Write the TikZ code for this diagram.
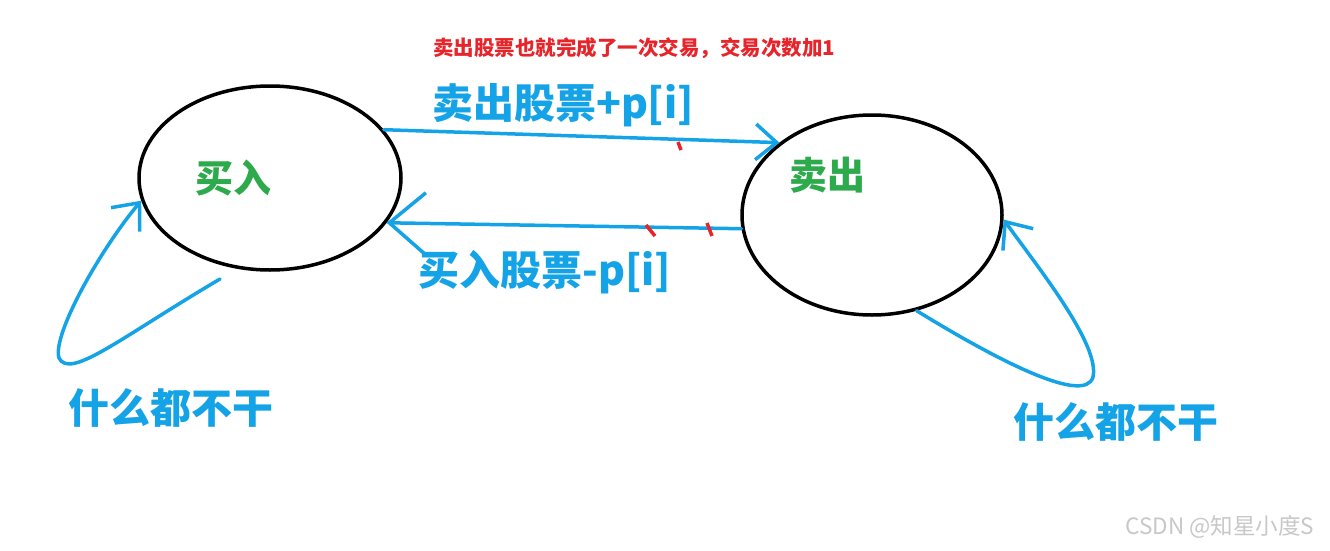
\documentclass[tikz,border=0pt]{standalone}
\usepackage{fontspec}
\newfontfamily\cjk{Noto Sans CJK SC}
\usetikzlibrary{arrows.meta,shapes.geometric}
\definecolor{skyb}{RGB}{20,163,230}
\definecolor{grn}{RGB}{45,170,75}
\definecolor{redt}{RGB}{232,36,43}
\definecolor{wm}{RGB}{200,200,200}
\begin{document}
\begin{tikzpicture}[x=1pt,y=-1pt,
  state/.style={draw=black,line width=3.5pt,ellipse,inner sep=0pt},
  conn/.style={draw=skyb,line width=3.5pt,line cap=round,line join=round},
  barb/.style={-{Straight Barb[length=#1,width=1.7*#1,line width=3.5pt]}},
  tick/.style={draw=redt,line width=3.5pt},
  big/.style={text=skyb,font=\cjk\bfseries\fontsize{41}{46}\selectfont,inner sep=0pt},
  stname/.style={text=grn,font=\cjk\bfseries\fontsize{38}{42}\selectfont,inner sep=0pt}]
\useasboundingbox (0,0) rectangle (1330,551);
\fill[white] (0,0) rectangle (1330,551);
% states
\node[state,minimum width=262pt,minimum height=184pt] (buy) at (270,178) {};
\node[state,minimum width=260pt,minimum height=200pt] (sell) at (872,215) {};
\node[stname] (buyt) at (233,178) {买入};
\node[stname] (sellt) at (827,175) {卖出};
% labels
\node[text=redt,font=\cjk\bfseries\fontsize{20.5}{24}\selectfont,inner sep=0pt] (note) at (634,48) {卖出股票也就完成了一次交易，交易次数加1};
\node[big] (sl) at (563,105) {卖出股票+p[i]};
\node[big] (bl) at (545,272) {买入股票-p[i]};
\node[big] (idle1) at (171,408) {什么都不干};
\node[big] (idle2) at (1116,422) {什么都不干};
\node[text=wm,font=\cjk\fontsize{22.5}{26}\selectfont,inner sep=0pt] (wmk) at (1220,527) {CSDN @知星小度S};
% transitions
\draw[conn,barb=21pt] (buy.23.9) -- (sell.142);
\draw[conn,barb=36pt] (sell.186.6) -- (buy.-21);
\coordinate (ls) at (220,279);
\draw[conn,barb=22pt] (ls) .. controls (120,338) and (70,380) .. (59,358) .. controls (52,335) and (100,250) .. (buy.190);
\draw[conn,barb=22pt] (sell.-65) .. controls (1000,362) and (1085,405) .. (1093,377) .. controls (1100,345) and (1040,270) .. (sell.-2);
% red ticks
\draw[tick] (678,142) -- (681,150);
\draw[tick] (646,225) -- (655,236);
\draw[tick] (707,223) -- (712,236);
\end{tikzpicture}
\end{document}
